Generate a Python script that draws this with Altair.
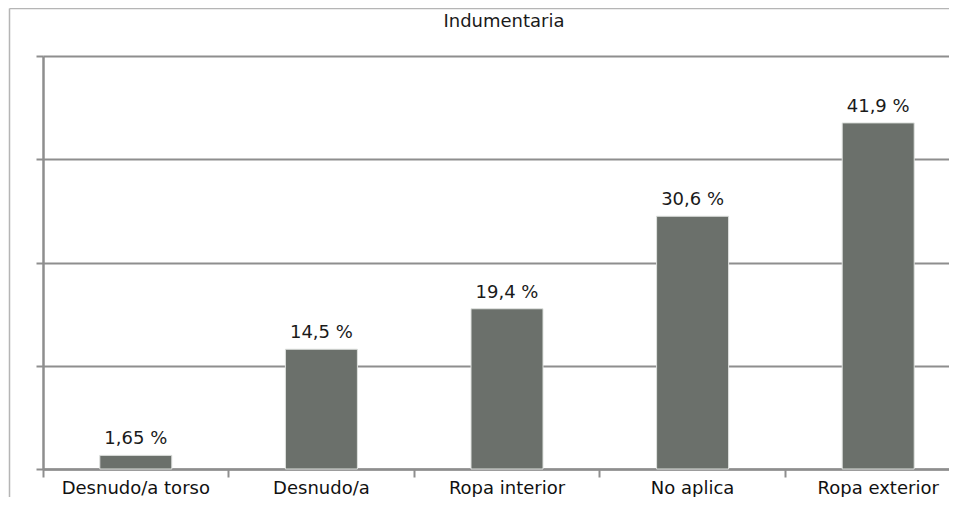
import altair as alt
import pandas as pd

categories = ["Desnudo/a torso", "Desnudo/a", "Ropa interior", "No aplica", "Ropa exterior"]
values = [1.65, 14.5, 19.4, 30.6, 41.9]
value_labels = ["1,65 %", "14,5 %", "19,4 %", "30,6 %", "41,9 %"]
y_grid = [0, 12.5, 25, 37.5, 50]
chart_title = "Indumentaria"

df = pd.DataFrame({"cat": categories, "val": values, "lab": value_labels})

FONT = "DejaVu Sans"
GRID = "#8e8e8e"

x_enc = alt.X(
    "cat:N",
    sort=categories,
    title=None,
    scale=alt.Scale(range=[0, 928], paddingInner=0, paddingOuter=0),
    axis=alt.Axis(
        bandPosition=0,
        labelAngle=0,
        labelFont=FONT,
        labelFontSize=18,
        labelColor="#111111",
        labelBaseline="alphabetic",
        labelPadding=16,
        tickSize=8,
        tickColor=GRID,
        tickWidth=2,
        domainColor=GRID,
        domainWidth=2.5,
        grid=False,
    ),
)
y_enc = alt.Y(
    "val:Q",
    title=None,
    scale=alt.Scale(domain=[0, 50], nice=False),
    axis=alt.Axis(
        values=y_grid,
        labels=False,
        tickSize=7,
        tickColor=GRID,
        tickWidth=2,
        domainColor=GRID,
        domainWidth=2.5,
        grid=True,
        gridColor=GRID,
        gridWidth=2,
        gridOpacity=1,
    ),
)

bars = alt.Chart(df).mark_bar(
    width=72, color="#6b706b", stroke="#dfe2df", strokeWidth=1
).encode(x=x_enc, y=y_enc)

texts = alt.Chart(df).mark_text(
    dy=-11, baseline="alphabetic", font=FONT, fontSize=18, color="#1a1a1a"
).encode(x=alt.X("cat:N", sort=categories), y="val:Q", text="lab:N")

title_df = pd.DataFrame({"t": [chart_title]})
title = alt.Chart(title_df).mark_text(
    baseline="alphabetic", font=FONT, fontSize=18, color="#1a1a1a"
).encode(x=alt.value(461), y=alt.value(-29), text="t:N")

border_left = alt.Chart(title_df).mark_rule(color="#b5b5b5", strokeWidth=1.5).encode(
    x=alt.value(-33.5), y=alt.value(-47.5), y2=alt.value(470)
)
border_top = alt.Chart(title_df).mark_rule(color="#b5b5b5", strokeWidth=1.5).encode(
    x=alt.value(-33.5), x2=alt.value(906), y=alt.value(-47.5)
)

chart = (
    alt.layer(bars, texts, title, border_left, border_top)
    .properties(
        width=906,
        height=413,
        padding={"left": 35, "top": 48, "right": 0, "bottom": 28},
        autosize=alt.AutoSizeParams(type="none"),
        background="white",
    )
    .configure_view(stroke=None)
)

chart.save("out.html", embed_options={"renderer": "svg", "actions": False})
